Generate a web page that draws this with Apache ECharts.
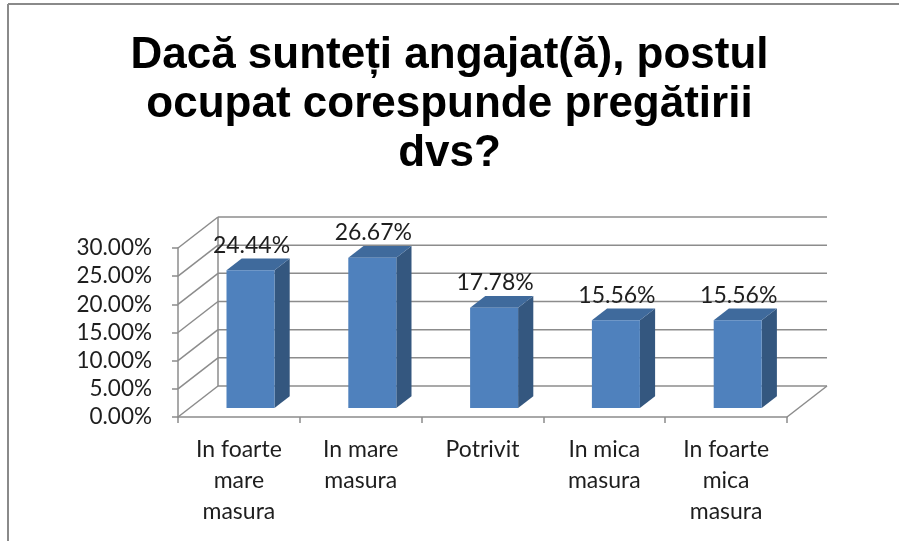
<!DOCTYPE html>
<html>
<head>
<meta charset="utf-8">
<script src="https://cdn.jsdelivr.net/npm/echarts@6/dist/echarts.min.js"></script>
<style>
  html, body { margin: 0; padding: 0; background: #fff; overflow: hidden; }
  #chart { width: 899px; height: 541px; }
</style>
</head>
<body>
<div id="chart"></div>
<script>
const categories = ['In foarte\nmare\nmasura', 'In mare\nmasura', 'Potrivit', 'In mica\nmasura', 'In foarte\nmica\nmasura']
const values = [0.2444, 0.2667, 0.1778, 0.1556, 0.1556]
const yTicks = [0, 0.05, 0.1, 0.15, 0.2, 0.25, 0.3]
const titleText = 'Dacă sunteți angajat(ă), postul\nocupat corespunde pregătirii\ndvs?'

// 3D box depth offset (px)
const DX = 40
const DY = 31
const BAR_OFF = 0.29   // bar front face position inside the depth
const BAR_DEPTH = 0.38 // bar depth as a share of the box depth
const BAR_W = 48

const colors = {
  front: '#4F81BD',
  side: '#34577F',
  top: '#3F6A9C',
  grid: '#8C8C8C',
  text: '#1E1E1E',
}

const pct = (v) => (v * 100).toFixed(2) + '%'

const chart = echarts.init(document.getElementById('chart'))

function gridLine(x1, y1, x2, y2) {
  return { type: 'line', shape: { x1, y1, x2, y2 }, style: { stroke: colors.grid, lineWidth: 1.5 } }
}

// back wall + left wall gridlines, floor edges
function renderWalls(params, api) {
  const cs = params.coordSys
  const v = api.value(1)
  const y = api.coord([0, v])[1]
  const x0 = cs.x
  const x1 = cs.x + cs.width
  const children = [
    gridLine(x0, y, x0 + DX, y - DY),
    gridLine(x0 + DX, y - DY, x1 + DX, y - DY),
  ]
  if (params.dataIndex === 0) {
    const yTop = api.coord([0, yTicks[yTicks.length - 1]])[1]
    children.push(gridLine(x1, y, x1 + DX, y - DY))
    children.push(gridLine(x0 + DX, y - DY, x0 + DX, yTop - DY))
  }
  return { type: 'group', children }
}

function renderBar(params, api) {
  const i = api.value(0)
  const v = api.value(1)
  const base = api.coord([i, 0])
  const top = api.coord([i, v])
  const ox = BAR_OFF * DX
  const oy = -BAR_OFF * DY
  const dx = BAR_DEPTH * DX
  const dy = BAR_DEPTH * DY
  const l = base[0] + ox - BAR_W / 2
  const r = l + BAR_W
  const yb = base[1] + oy
  const yt = top[1] + oy
  return {
    type: 'group',
    children: [
      { type: 'polygon', shape: { points: [[r, yt], [r + dx, yt - dy], [r + dx, yb - dy], [r, yb]] }, style: { fill: colors.side } },
      { type: 'polygon', shape: { points: [[l, yt], [l + dx, yt - dy], [r + dx, yt - dy], [r, yt]] }, style: { fill: colors.top } },
      { type: 'rect', shape: { x: l, y: yt, width: BAR_W, height: yb - yt }, style: { fill: colors.front } },
      {
        type: 'text',
        x: l + BAR_W / 2 + 1,
        y: yt - 25,
        style: {
          text: pct(v),
          fill: colors.text,
          font: '23px Lato',
          align: 'center',
          verticalAlign: 'middle',
        },
      },
    ],
  }
}

const option = {
  animation: false,
  backgroundColor: '#fff',
  title: {
    text: titleText,
    left: 'center',
    top: 31,
    padding: 0,
    textStyle: {
      fontFamily: 'Liberation Sans',
      fontWeight: 'bold',
      fontSize: 44,
      lineHeight: 49,
      color: '#000',
    },
  },
  graphic: [
    {
      type: 'line',
      shape: { x1: 8, y1: 4, x2: 899, y2: 4 },
      style: { stroke: '#8A8A8A', lineWidth: 2 },
      silent: true,
    },
    {
      type: 'line',
      shape: { x1: 8, y1: 4, x2: 8, y2: 541 },
      style: { stroke: '#8A8A8A', lineWidth: 2 },
      silent: true,
    },
  ],
  grid: { left: 178, right: 112, top: 248, bottom: 124 },
  xAxis: {
    type: 'category',
    data: categories,
    axisLine: { lineStyle: { color: colors.grid, width: 1.5 } },
    axisTick: { show: true, length: 6, lineStyle: { color: colors.grid, width: 1.5 } },
    axisLabel: {
      interval: 0,
      margin: 17,
      color: colors.text,
      fontFamily: 'Lato',
      fontSize: 23,
      lineHeight: 31,
    },
  },
  yAxis: {
    type: 'value',
    min: 0,
    max: 0.3,
    interval: 0.05,
    axisLine: { show: true, lineStyle: { color: colors.grid, width: 1.5 } },
    axisTick: { show: true, length: 6, lineStyle: { color: colors.grid, width: 1.5 } },
    splitLine: { show: false },
    axisLabel: {
      margin: 26,
      color: colors.text,
      fontFamily: 'Lato',
      fontSize: 22.5,
      formatter: pct,
    },
  },
  series: [
    {
      type: 'custom',
      renderItem: renderWalls,
      data: yTicks.map((v) => [0, v]),
      encode: { x: 0, y: 1 },
      z: 1,
      silent: true,
    },
    {
      type: 'custom',
      renderItem: renderBar,
      data: values.map((v, i) => [i, v]),
      encode: { x: 0, y: 1 },
      z: 2,
    },
  ],
}

chart.setOption(option)
</script>
</body>
</html>
